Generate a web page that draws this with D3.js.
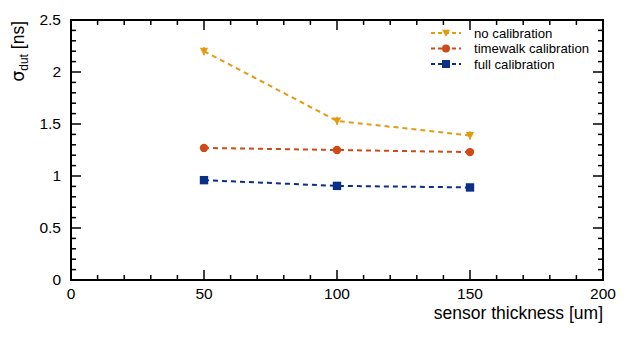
<!DOCTYPE html>
<html>
<head>
<meta charset="utf-8">
<script src="https://cdn.jsdelivr.net/npm/d3@7"></script>
<style>
  body { margin: 0; background: #fff; }
  text { font-family: "Liberation Sans", Arial, sans-serif; }
</style>
</head>
<body>
<script>
// data
var thickness = [50, 100, 150];
var noCalib = [2.20, 1.53, 1.39];
var noCalibErr = [0.04, 0.04, 0.04];
var twCalib = [1.27, 1.25, 1.23];
var twCalibErr = [0.03, 0.03, 0.03];
var fullCalib = [0.96, 0.905, 0.89];
var fullCalibErr = [0.03, 0.03, 0.03];
var xTicks = [0, 50, 100, 150, 200];
var yTicks = [0, 0.5, 1, 1.5, 2, 2.5];

var series = [
  { name: 'no calibration', y: noCalib, err: noCalibErr, color: '#E39B12', shape: 'tri' },
  { name: 'timewalk calibration', y: twCalib, err: twCalibErr, color: '#CF4A19', shape: 'circle' },
  { name: 'full calibration', y: fullCalib, err: fullCalibErr, color: '#0B2E86', shape: 'square' }
];

var W = 635, H = 340;
var L = 71, R = 603, T = 20, B = 280;

var svg = d3.select('body').append('svg').attr('width', W).attr('height', H);

var x = d3.scaleLinear().domain([0, 200]).range([L, R]);
var y = d3.scaleLinear().domain([0, 2.5]).range([B, T]);

/***********************************************************************************/
// Frame and ticks (ticks inside, on all four sides)

var g = svg.append('g').attr('stroke', '#000').attr('stroke-width', 1.5);

d3.range(0, 201, 10).forEach(function(v){
  var len = (v % 50 === 0) ? 10 : 5;
  g.append('line').attr('x1', x(v)).attr('x2', x(v)).attr('y1', B).attr('y2', B - len);
  g.append('line').attr('x1', x(v)).attr('x2', x(v)).attr('y1', T).attr('y2', T + len);
});
d3.range(0, 26, 1).forEach(function(i){
  var v = i / 10;
  var len = (i % 5 === 0) ? 10 : 5;
  g.append('line').attr('x1', L).attr('x2', L + len).attr('y1', y(v)).attr('y2', y(v));
  g.append('line').attr('x1', R).attr('x2', R - len).attr('y1', y(v)).attr('y2', y(v));
});

svg.append('rect').attr('x', L).attr('y', T).attr('width', R - L).attr('height', B - T)
  .attr('fill', 'none').attr('stroke', '#000').attr('stroke-width', 2);

svg.selectAll('.xl').data(xTicks).enter().append('text')
  .attr('x', function(d){ return x(d); }).attr('y', B + 19)
  .attr('text-anchor', 'middle').attr('font-size', 15.5).text(function(d){ return d; });

svg.selectAll('.yl').data(yTicks).enter().append('text')
  .attr('x', L - 10).attr('y', function(d){ return y(d) + 5; })
  .attr('text-anchor', 'end').attr('font-size', 15.5).text(function(d){ return d; });

svg.append('text').attr('x', R).attr('y', 319).attr('text-anchor', 'end')
  .attr('font-size', 17.5).text('sensor thickness [um]');

var yt = svg.append('text').attr('transform', 'translate(24,' + (T + 1) + ') rotate(-90)')
  .attr('text-anchor', 'end').attr('font-size', 17.5);
yt.append('tspan').attr('font-family', 'DejaVu Sans').text('σ');
yt.append('tspan').attr('font-size', 12).attr('dy', 4).text('dut');
yt.append('tspan').attr('dy', -4).text(' [ns]');

/***********************************************************************************/
// Markers

function marker(sel, shape, cx, cy, color, s){
  if(shape == 'tri'){
    sel.append('path').attr('d', 'M' + (cx - s) + ',' + (cy - s*0.8) + 'L' + (cx + s) + ',' + (cy - s*0.8) + 'L' + cx + ',' + (cy + s) + 'Z')
      .attr('fill', color);
  }
  if(shape == 'circle'){
    sel.append('circle').attr('cx', cx).attr('cy', cy).attr('r', s).attr('fill', color);
  }
  if(shape == 'square'){
    sel.append('rect').attr('x', cx - s).attr('y', cy - s).attr('width', 2*s).attr('height', 2*s).attr('fill', color);
  }
}

var line = d3.line().x(function(d){ return x(d[0]); }).y(function(d){ return y(d[1]); });

series.forEach(function(s){
  var pts = thickness.map(function(t, i){ return [t, s.y[i], s.err[i]]; });
  svg.append('path').datum(pts).attr('d', line).attr('fill', 'none')
    .attr('stroke', s.color).attr('stroke-width', 2).attr('stroke-dasharray', '5,4');
  pts.forEach(function(p){
    svg.append('line').attr('x1', x(p[0])).attr('x2', x(p[0]))
      .attr('y1', y(p[1] - p[2])).attr('y2', y(p[1] + p[2]))
      .attr('stroke', s.color).attr('stroke-width', 1.5);
    marker(svg, s.shape, x(p[0]), y(p[1]), s.color, 4.2);
  });
});

/***********************************************************************************/
// Legend

series.forEach(function(s, i){
  var ly = 33 + i * 15.5;
  svg.append('line').attr('x1', 431).attr('x2', 461).attr('y1', ly).attr('y2', ly)
    .attr('stroke', s.color).attr('stroke-width', 2).attr('stroke-dasharray', '4,3');
  marker(svg, s.shape, 446, ly, s.color, 4);
  svg.append('text').attr('x', 474).attr('y', ly + 4.5).attr('font-size', 13.2).text(s.name);
});
</script>
</body>
</html>
